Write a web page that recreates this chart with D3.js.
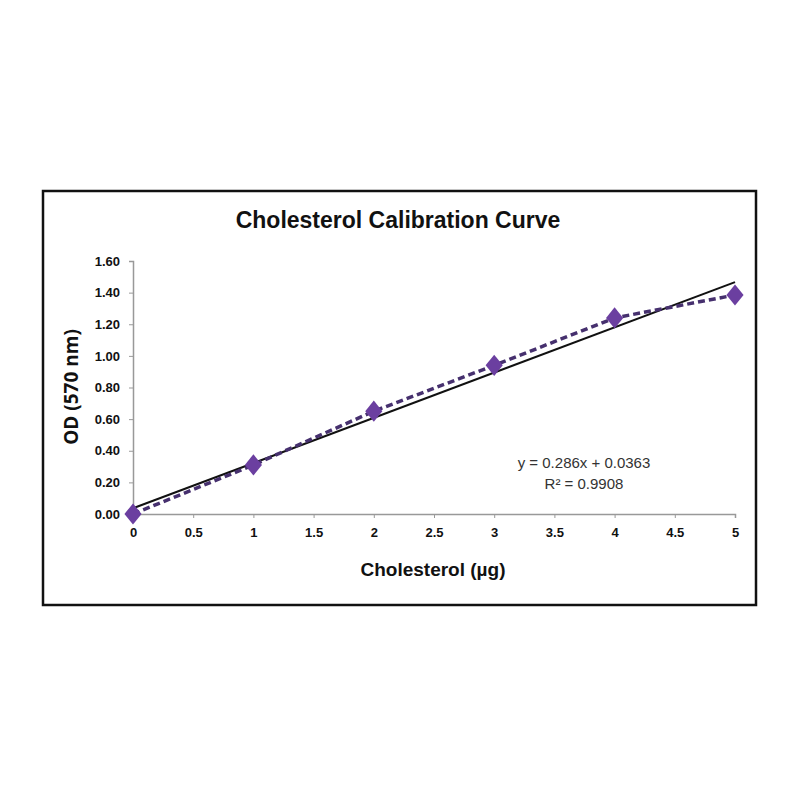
<!DOCTYPE html>
<html><head><meta charset="utf-8">
<script src="https://cdn.jsdelivr.net/npm/d3@7"></script>
<style>body{margin:0;background:#fff}</style>
</head><body>
<svg id="c" width="800" height="800"></svg>
<script>
const xValues = [0, 1, 2, 3, 4, 5];
const odValues = [0.00, 0.31, 0.65, 0.94, 1.24, 1.385];
const xTicks = [0, 0.5, 1, 1.5, 2, 2.5, 3, 3.5, 4, 4.5, 5];
const yTicks = [0, 0.2, 0.4, 0.6, 0.8, 1.0, 1.2, 1.4, 1.6];
const slope = 0.286, intercept = 0.0363;
const titleText = "Cholesterol Calibration Curve";
const xLabel = "Cholesterol (µg)";
const yLabel = "OD (570 nm)";
const eqText = "y = 0.286x + 0.0363";
const r2Text = "R² = 0.9908";

const svg = d3.select("#c");
const narrow = "'Liberation Sans Narrow','Arial Narrow',sans-serif";
svg.append("rect").attr("x",43).attr("y",191).attr("width",713).attr("height",414)
  .attr("fill","#fff").attr("stroke","#111").attr("stroke-width",2.5);

const x = d3.scaleLinear().domain([0,5]).range([133,735]);
const y = d3.scaleLinear().domain([0,1.6]).range([514,261]);

const gx = svg.append("g").attr("transform","translate(0,514)")
  .call(d3.axisBottom(x).tickValues(xTicks).tickSize(4).tickPadding(10).tickFormat(d=>String(d)));
const gy = svg.append("g").attr("transform","translate(133,0)")
  .call(d3.axisLeft(y).tickValues(yTicks).tickSize(4).tickPadding(9).tickFormat(d3.format(".2f")));
[gx,gy].forEach(g=>{
  g.select(".domain").attr("stroke","#999").attr("stroke-width",1.5);
  g.selectAll(".tick line").attr("stroke","#999");
  g.selectAll("text").attr("fill","#111").style("font-family",narrow).style("font-weight","bold").style("font-size","13px");
});

// trendline
svg.append("line")
  .attr("x1",x(0)).attr("y1",y(intercept))
  .attr("x2",x(5)).attr("y2",y(slope*5+intercept))
  .attr("stroke","#111").attr("stroke-width",2);

// dashed data line
const line = d3.line().x((d,i)=>x(xValues[i])).y(d=>y(d));
svg.append("path").datum(odValues).attr("d",line)
  .attr("fill","none").attr("stroke","#46306e").attr("stroke-width",3.5)
  .attr("stroke-dasharray","7,4");

// markers
const sym = d3.symbol().type(d3.symbolDiamond).size(130);
svg.selectAll(".pt").data(odValues).enter().append("path")
  .attr("d",sym)
  .attr("transform",(d,i)=>`translate(${x(xValues[i])},${y(d)}) scale(1.4,1)`)
  .attr("fill","#6b3fa0");

svg.append("text").attr("x",398).attr("y",228).attr("text-anchor","middle")
  .style("font-family",narrow).style("font-weight","bold").style("font-size","23px").attr("fill","#111")
  .text(titleText);
svg.append("text").attr("x",433).attr("y",576).attr("text-anchor","middle")
  .style("font-family",narrow).style("font-weight","bold").style("font-size","19px").attr("fill","#111")
  .text(xLabel);
svg.append("text").attr("transform","translate(78,387) rotate(-90)").attr("text-anchor","middle")
  .style("font-family","'Open Sans',sans-serif").style("font-weight","bold").style("font-size","19px").attr("fill","#111")
  .text(yLabel);
svg.append("text").attr("x",584).attr("y",468).attr("text-anchor","middle")
  .style("font-family",narrow).style("font-size","15px").attr("fill","#333")
  .text(eqText);
svg.append("text").attr("x",584).attr("y",489).attr("text-anchor","middle")
  .style("font-family",narrow).style("font-size","15px").attr("fill","#333")
  .text(r2Text);
</script>
</body></html>
